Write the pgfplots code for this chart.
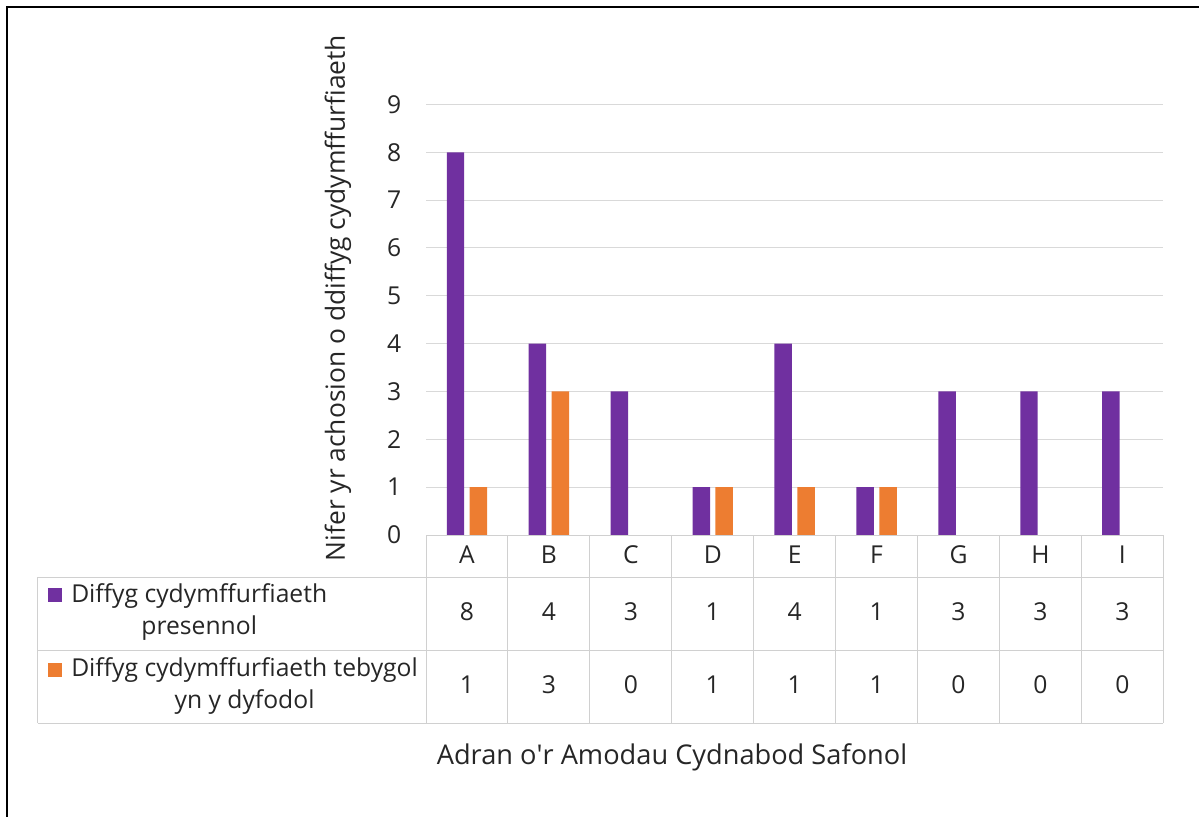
\documentclass[border=0pt]{standalone}
\usepackage{pgfplots}
\pgfplotsset{compat=1.18}
\usepackage{pgfplotstable}
\usepackage{fontspec}
\setmainfont{Open Sans}
\definecolor{cpurple}{HTML}{7030A0}
\definecolor{corange}{HTML}{ED7D31}
\definecolor{cgrid}{HTML}{D9D9D9}
\definecolor{ctab}{HTML}{D0D0D0}
\definecolor{ctext}{HTML}{262626}

\pgfplotstableread{
x cat a b
0 A 8 1
1 B 4 3
2 C 3 0
3 D 1 1
4 E 4 1
5 F 1 1
6 G 3 0
7 H 3 0
8 I 3 0
}\data

\begin{document}
\begin{tikzpicture}[font=\fontsize{18.5}{24}\selectfont, text=ctext]
\useasboundingbox (0,0) rectangle (899.25pt,-612.75pt);
\begin{axis}[
  at={(319.5pt,-401.25pt)}, anchor=south west,
  scale only axis, width=553pt, height=322.9pt,
  xmin=-0.5, xmax=8.5, ymin=0, ymax=9,
  axis line style={draw=none},
  tick style={draw=none},
  ytick={0,...,9},
  ymajorgrids, grid style={cgrid, line width=0.75pt},
  xtick=data, xticklabels from table={\data}{cat},
  xticklabel style={anchor=base, yshift=-21.2pt, text=ctext},
  yticklabel style={anchor=east, xshift=-15pt, text=ctext},
  /pgf/number format/assume math mode=true,
  clip=false,
]
\addplot[ybar, bar width=13.1pt, bar shift=-8.6pt, fill=cpurple, draw=none] table[x=x,y=a]{\data};
\addplot[ybar, bar width=13.1pt, bar shift=8.6pt, fill=corange, draw=none] table[x=x,y=b]{\data};
\addplot[draw=none, mark=none, nodes near coords, point meta=explicit,
  every node near coord/.style={anchor=center, text=ctext}] table[x=x, y expr=-1.608, meta=a]{\data};
\addplot[draw=none, mark=none, nodes near coords, point meta=explicit,
  every node near coord/.style={anchor=center, text=ctext}] table[x=x, y expr=-3.132, meta=b]{\data};
\end{axis}
\begin{scope}[x=0.75pt, y=-0.75pt]
  % outer border
  \draw[black, line width=0.9pt] (7,830) -- (7,7) -- (1210,7);
  % table lines
  \begin{scope}[ctab, line width=0.75pt]
    \draw (426,535) -- (1163.3,535);
    \draw (37.5,577) -- (1163.3,577);
    \draw (37.5,650) -- (1163.3,650);
    \draw (37.5,723) -- (1163.3,723);
    \draw (37.5,577) -- (37.5,723);
    \foreach \k in {0,...,9} {
      \draw ({426+\k*81.92},535) -- ({426+\k*81.92},723);
    }
  \end{scope}
  % legend keys
  \fill[cpurple] (48,588) rectangle (62,602);
  \fill[corange] (48,663) rectangle (62,677);
  \node[anchor=west, inner sep=0pt, align=center] at (71,612) {Diffyg cydymffurfiaeth\\presennol};
  \node[anchor=west, inner sep=0pt, align=center] at (71,686) {Diffyg cydymffurfiaeth tebygol\\yn y dyfodol};
  % axis titles
  \node[font=\fontsize{20.4}{24}\selectfont] at (672,757) {Adran o\textquotesingle r Amodau Cydnabod Safonol};
  \node[rotate=90, font=\fontsize{19.8}{24}\selectfont] at (338,298) {Nifer yr achosion o ddiffyg cydymffurfiaeth};
\end{scope}
\end{tikzpicture}
\end{document}
